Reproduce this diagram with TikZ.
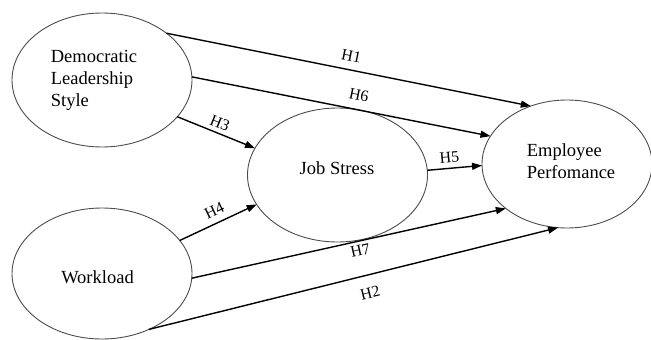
\documentclass[tikz,border=0pt]{standalone}
\usepackage{fontspec}
\setmainfont{Liberation Serif}
\usetikzlibrary{shapes.geometric,arrows.meta}

\begin{document}
\begin{tikzpicture}[x=1pt,y=-1pt,
    var/.style={draw=black!70,line width=0.9pt,ellipse,inner sep=0pt,outer sep=0pt},
    txt/.style={font=\fontsize{18.5}{22}\selectfont,inner sep=0pt,align=left},
    hyp/.style={-{Triangle[length=10pt,width=7pt]},line width=1.4pt},
    lbl/.style={font=\fontsize{16}{18}\selectfont,inner sep=0pt,sloped}]
    \useasboundingbox (0,0) rectangle (651,340);
    % Draw variables
    \node[var,minimum width=180pt,minimum height=134pt] (dem) at (102,80) {};
    \node[var,minimum width=180pt,minimum height=131pt] (work) at (102,273.5) {};
    \node[var,minimum width=180pt,minimum height=134pt] (stress) at (337.5,175) {};
    \node[var,minimum width=170pt,minimum height=128pt] (perf) at (567,164) {};
    % Label variables
    \node[txt] (demtxt) at (94,80) {Democratic\\Leadership\\Style};
    \node[txt] (worktxt) at (97.5,277) {Workload};
    \node[txt] (stresstxt) at (337,168) {Job Stress};
    \node[txt] (perftxt) at (571,161) {Employee\\Perfomance};
    % Draw hypotheses
    \draw[hyp] (dem.36) -- (perf.122) node[lbl,pos=0.5,above=7.7pt] (h1) {H1};
    \draw[hyp] (dem.2) -- (perf.160) node[lbl,pos=0.55,above=8.7pt] (h6) {H6};
    \draw[hyp] (dem.-26) -- (stress.162) node[lbl,pos=0.5,above=3.7pt] (h3) {H3};
    \draw[hyp] (work.23) -- (stress.200) node[lbl,pos=0.52,above=6.7pt] (h4) {H4};
    \draw[hyp] (stress.3) -- (perf.181) node[lbl,pos=0.42,above=4.7pt] (h5) {H5};
    \draw[hyp] (work.-3) -- (perf.216) node[lbl,pos=0.53,below=3.7pt] (h7) {H7};
    \draw[hyp] (work.-50) -- (perf.262) node[lbl,pos=0.53,below=11.7pt] (h2) {H2};
\end{tikzpicture}
\end{document}
